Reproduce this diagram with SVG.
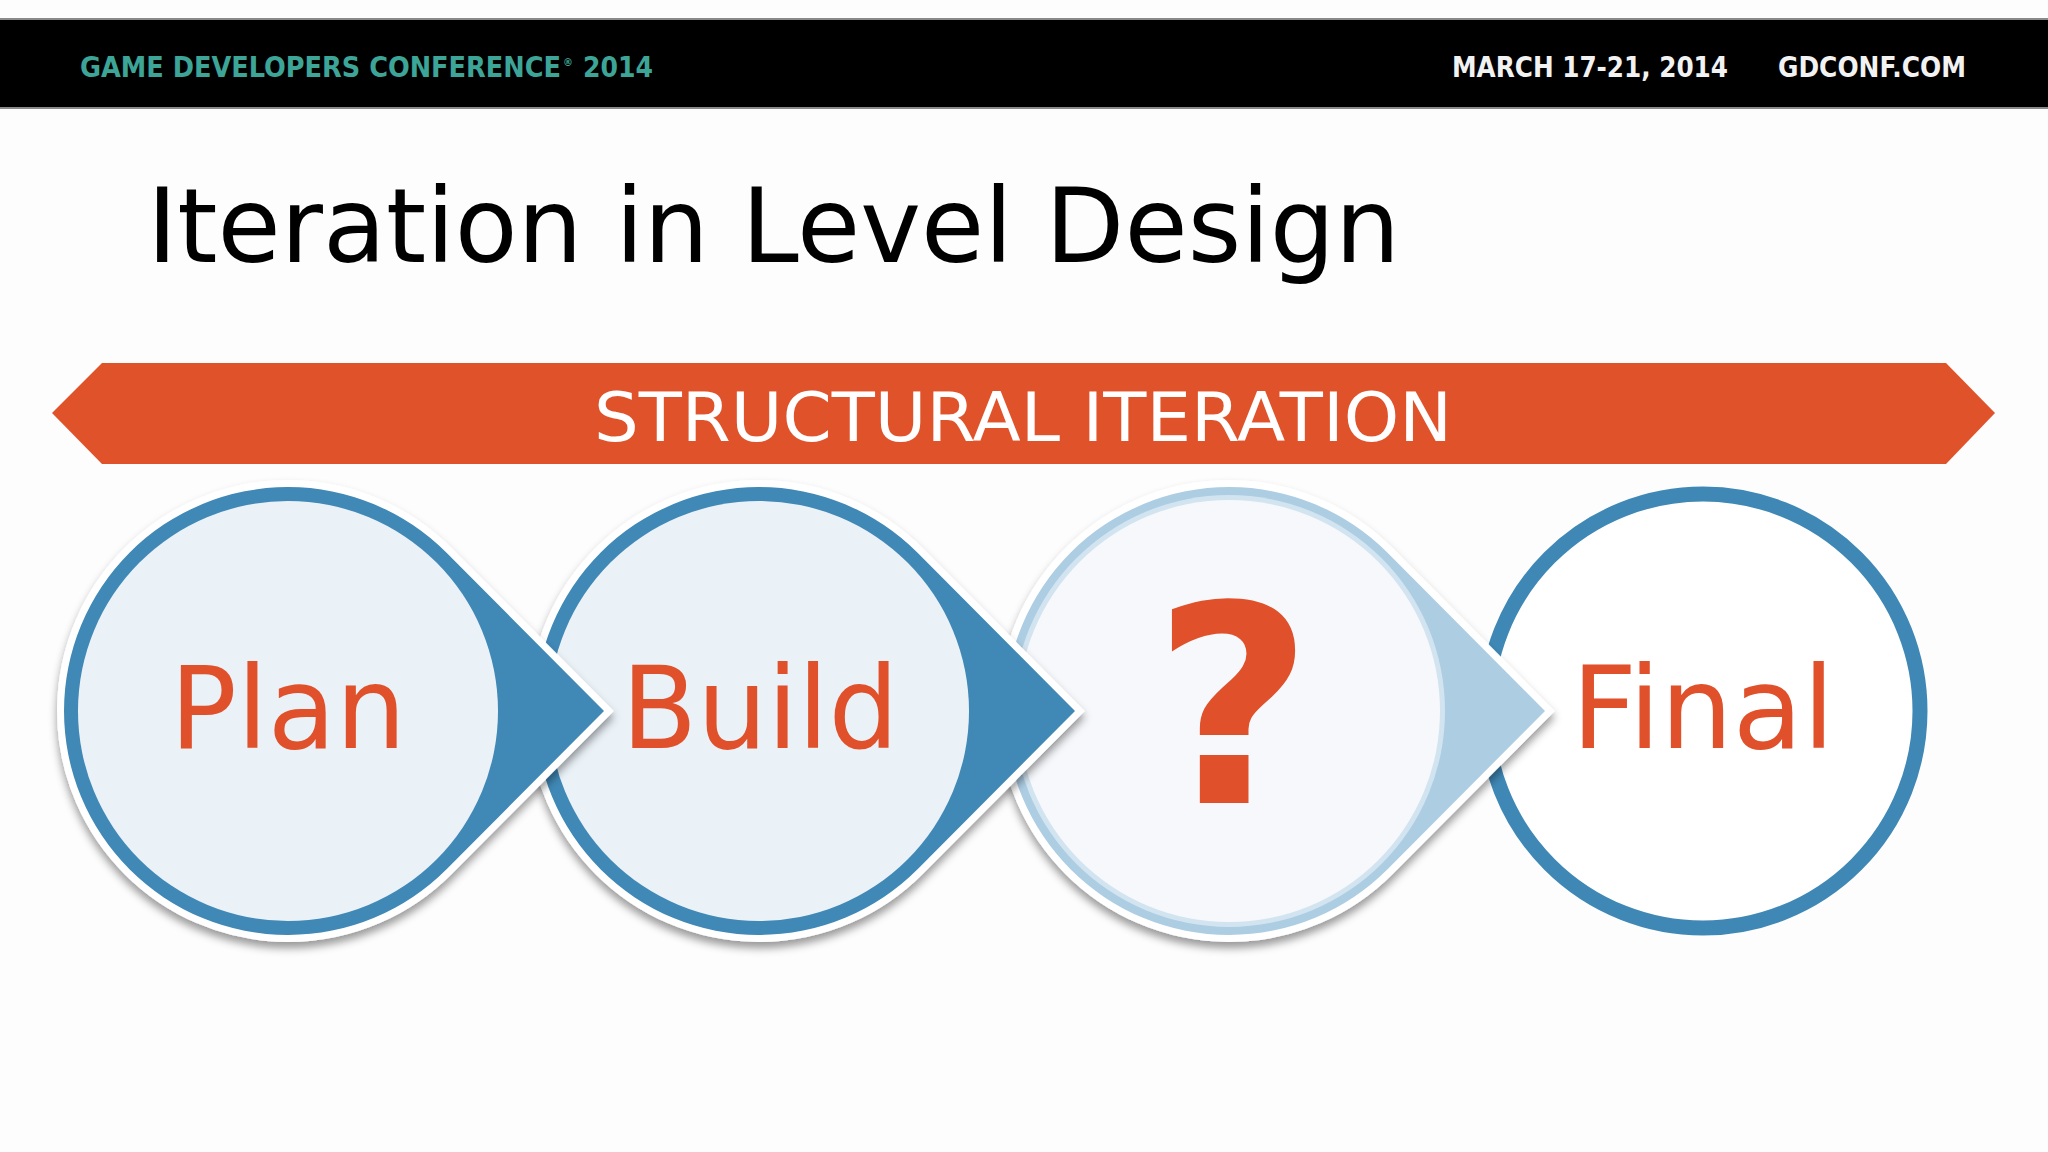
<svg xmlns="http://www.w3.org/2000/svg" width="2048" height="1152" viewBox="0 0 2048 1152">
  <defs>
    <filter id="shadow" x="-10%" y="-10%" width="120%" height="125%">
      <feDropShadow dx="0" dy="6" stdDeviation="4.5" flood-color="#000" flood-opacity="0.4"/>
    </filter>
  </defs>
  <style>
    .hdr { font-family: "DejaVu Sans Condensed", "DejaVu Sans", "Liberation Sans", sans-serif; font-weight: bold; font-size: 28px; }
    .title { font-family: "DejaVu Sans", Verdana, sans-serif; font-size: 103px; fill: #000; }
    .banner-text { font-family: "DejaVu Sans", Verdana, sans-serif; font-size: 68px; fill: #fff; }
    .label { font-family: "DejaVu Sans", Verdana, sans-serif; font-size: 114px; fill: #E0502A; }
    .qmark { font-family: "DejaVu Sans", Verdana, sans-serif; font-weight: bold; font-size: 276px; fill: #E0502A; }
    .outline { stroke: #fff; stroke-width: 14; stroke-linejoin: miter; stroke-miterlimit: 4; paint-order: stroke; }
    .dark { fill: #3F88B6; }
    .light { fill: #ADCDE3; }
  </style>

  <rect x="0" y="0" width="2048" height="1152" fill="#FDFDFD"/>

  <g id="header">
    <rect x="-2" y="19" width="2052" height="89" fill="#000" stroke="#8A8A8A" stroke-width="2"/>
    <text class="hdr" x="80" y="77" fill="#3DA597" textLength="481" lengthAdjust="spacingAndGlyphs">GAME DEVELOPERS CONFERENCE</text>
    <text class="hdr" x="563" y="66" fill="#3DA597" style="font-size:11px">®</text>
    <text class="hdr" x="583" y="77" fill="#3DA597" textLength="70" lengthAdjust="spacingAndGlyphs">2014</text>
    <text class="hdr" x="1452" y="77" fill="#F2F2F2" textLength="276" lengthAdjust="spacingAndGlyphs">MARCH 17-21, 2014</text>
    <text class="hdr" x="1778" y="77" fill="#F2F2F2" textLength="188" lengthAdjust="spacingAndGlyphs">GDCONF.COM</text>
  </g>

  <g id="title">
    <text class="title" x="147" y="262" textLength="1253" lengthAdjust="spacingAndGlyphs">Iteration in Level Design</text>
  </g>

  <g id="banner">
    <polygon points="52,413 102,363 1946,363 1995,413 1946,464 102,464" fill="#E0522A"/>
    <text class="banner-text" x="1023" y="441" text-anchor="middle" textLength="858" lengthAdjust="spacingAndGlyphs">STRUCTURAL ITERATION</text>
  </g>

  <g id="node-final">
    <circle cx="1703" cy="711" r="217" fill="#fff" stroke="#3F88B6" stroke-width="15"/>
    <text class="label" x="1703" y="748" text-anchor="middle" textLength="263" lengthAdjust="spacingAndGlyphs">Final</text>
  </g>

  <g id="node-question">
    <path class="light outline" filter="url(#shadow)" d="M1545,711 L1387.8,553 A224,224 0 1 0 1387.8,869 Z"/>
    <circle cx="1229" cy="711" r="216" fill="#D2E4F0"/>
    <circle cx="1229" cy="711" r="211" fill="#F6F8FB"/>
    <text class="qmark" x="1233" y="803" text-anchor="middle">?</text>
  </g>

  <g id="node-build">
    <path class="dark outline" filter="url(#shadow)" d="M1075,711 L917.8,553 A224,224 0 1 0 917.8,869 Z"/>
    <circle cx="759" cy="711" r="210" fill="#EAF2F8"/>
    <text class="label" x="760" y="748" text-anchor="middle" textLength="277" lengthAdjust="spacingAndGlyphs">Build</text>
  </g>

  <g id="node-plan">
    <path class="dark outline" filter="url(#shadow)" d="M604,711 L446.8,553 A224,224 0 1 0 446.8,869 Z"/>
    <circle cx="288" cy="711" r="210" fill="#EAF2F8"/>
    <text class="label" x="288" y="748" text-anchor="middle" textLength="236" lengthAdjust="spacingAndGlyphs">Plan</text>
  </g>
</svg>
